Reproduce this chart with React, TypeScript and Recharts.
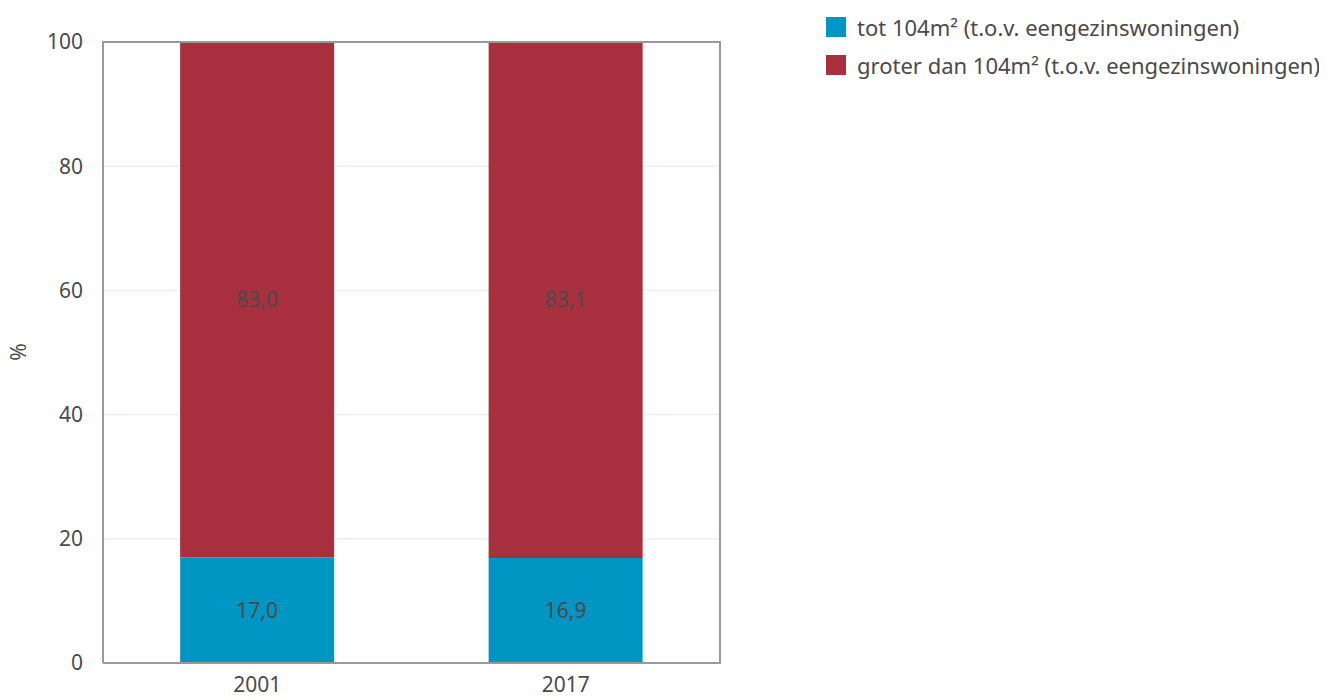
import { BarChart, Bar, XAxis, YAxis, CartesianGrid, LabelList } from 'recharts';

const years = ['2001', '2017'];
const totValues = [17.0, 16.9];
const groterValues = [83.0, 83.1];
const yTicks = [0, 20, 40, 60, 80, 100];

const seriesNames = ['tot 104m² (t.o.v. eengezinswoningen)', 'groter dan 104m² (t.o.v. eengezinswoningen)'];

const BLUE = '#0095c2';
const RED = '#a8303e';
const TEXT = '#4a4a4a';
const AXIS = '#999999';
const FONT = '"Noto Sans", sans-serif';
const FS = 21;

// plot box inside the chart svg
const PLOT = { left: 95, top: 34, right: 712, bottom: 655 };

const data = years.map((year, i) => ({
  year,
  tot: totValues[i],
  groter: groterValues[i],
}));

function formatComma(value: any): string {
  return Number(value).toFixed(1).replace('.', ',');
}

export default function App() {
  const legendItems = [
    { name: seriesNames[0], color: BLUE },
    { name: seriesNames[1], color: RED },
  ];

  return (
    <div style={{ position: 'relative', width: 1311, height: 692, fontFamily: FONT }}>
      <BarChart
        width={1311}
        height={692}
        data={data}
        margin={{ top: PLOT.top, right: 1311 - PLOT.right, bottom: 7, left: 0 }}
        barCategoryGap="25%"
      >
        <CartesianGrid vertical={false} stroke="#e3f1f8" strokeWidth={1.5} />
        <XAxis
          dataKey="year"
          height={30}
          axisLine={{ stroke: AXIS, strokeWidth: 2 }}
          tickLine={false}
          tickSize={0}
          tickMargin={14}
          tick={{ fill: TEXT, fontSize: FS, fontFamily: FONT }}
        />
        <YAxis
          width={PLOT.left}
          domain={[0, 100]}
          ticks={yTicks}
          axisLine={{ stroke: AXIS, strokeWidth: 2 }}
          tickLine={false}
          tickSize={10}
          tickMargin={10}
          tick={{ fill: TEXT, fontSize: FS, fontFamily: FONT }}
        />
        <Bar dataKey="tot" name={seriesNames[0]} stackId="a" fill={BLUE} isAnimationActive={false}>
          <LabelList dataKey="tot" position="center" formatter={formatComma} fill={TEXT} fontSize={FS} fontFamily={FONT} />
        </Bar>
        <Bar dataKey="groter" name={seriesNames[1]} stackId="a" fill={RED} isAnimationActive={false}>
          <LabelList dataKey="groter" position="center" formatter={formatComma} fill={TEXT} fontSize={FS} fontFamily={FONT} />
        </Bar>
      </BarChart>

      {/* frame around the plot area (top and right edges) */}
      <div
        style={{
          position: 'absolute',
          left: PLOT.left - 1,
          top: PLOT.top - 1,
          width: PLOT.right - PLOT.left,
          height: PLOT.bottom - PLOT.top,
          borderTop: `2px solid ${AXIS}`,
          borderRight: `2px solid ${AXIS}`,
          pointerEvents: 'none',
        }}
      />

      {/* y axis title */}
      <div
        style={{
          position: 'absolute',
          left: 10,
          top: 344,
          transform: 'translate(-50%, -50%) rotate(-90deg)',
          color: TEXT,
          fontSize: FS,
          lineHeight: '24px',
        }}
      >
        %
      </div>

      {/* legend */}
      <div style={{ position: 'absolute', left: 818, top: 0 }}>
        {legendItems.map((item) => (
          <div key={item.name} style={{ display: 'flex', alignItems: 'center', height: 38 }}>
            <span style={{ display: 'inline-block', width: 20, height: 20, background: item.color, marginRight: 11 }} />
            <span style={{ color: TEXT, fontSize: 22, whiteSpace: 'nowrap' }}>{item.name}</span>
          </div>
        ))}
      </div>
    </div>
  );
}
